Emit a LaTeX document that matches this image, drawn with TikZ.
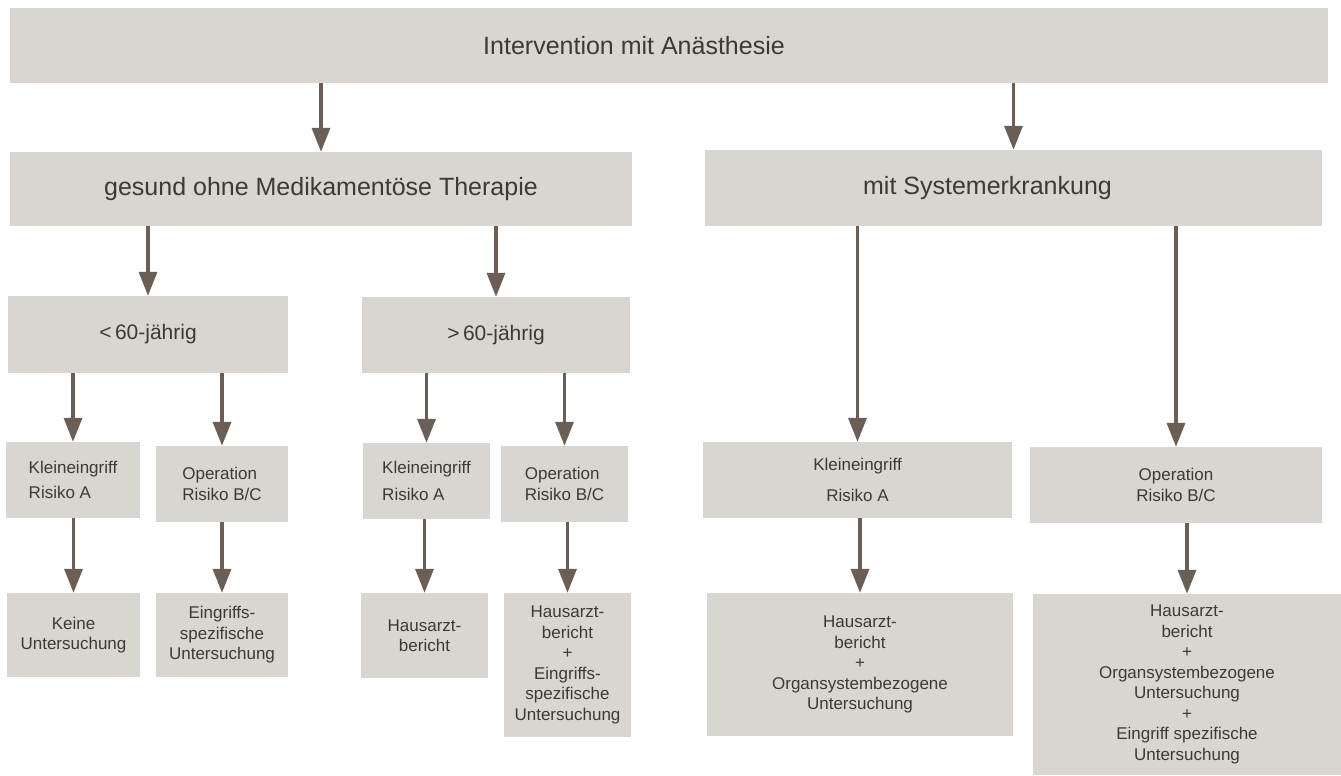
\documentclass[tikz,border=0pt]{standalone}
\usepackage{fontspec}
\setmainfont{Liberation Sans}
\usetikzlibrary{arrows.meta}
\definecolor{kastengrau}{HTML}{D9D6D1}
\definecolor{pfeilbraun}{HTML}{6B5E55}
\definecolor{schrift}{HTML}{3C3A38}

\begin{document}
\begin{tikzpicture}[x=1pt,y=-1pt]
\tikzstyle{kasten} = [fill=kastengrau, inner sep=0pt, text=schrift, align=center, font=\fontsize{17}{20.5}\selectfont]
\tikzstyle{gross} = [font=\fontsize{25}{30}\selectfont]
\tikzstyle{mittel} = [font=\fontsize{21}{25}\selectfont]
\tikzstyle{pfeil} = [draw=pfeilbraun, line width=3.5pt, -{Triangle[width=18pt,length=24pt]}]
\useasboundingbox (0,0) rectangle (1341,776);

% erste und zweite Ebene
\node[kasten, gross, minimum width=1318pt, minimum height=75pt] (start) at (669,45.5) {\hspace*{-70pt}Intervention mit Anästhesie};
\node[kasten, gross, minimum width=622pt, minimum height=74pt] (gesund) at (321,189) {gesund ohne Medikamentöse Therapie};
\node[kasten, gross, minimum width=617pt, minimum height=76pt] (system) at (1013.5,188) {\hspace*{-52pt}mit Systemerkrankung};

% Alter
\node[kasten, mittel, minimum width=280pt, minimum height=77pt] (unter60) at (148,334.5) {<\,60-jährig};
\node[kasten, mittel, minimum width=268pt, minimum height=76pt] (ueber60) at (496,335) {>\,60-jährig};

% Eingriffe
\node[kasten, align=left, minimum width=134pt, minimum height=76pt] (klein1) at (73,480) {Kleineingriff\\[4pt]Risiko A};
\node[kasten, align=left, minimum width=132pt, minimum height=76pt] (op1) at (222,484) {Operation\\Risiko B/C};
\node[kasten, align=left, minimum width=127pt, minimum height=76pt] (klein2) at (426.5,481) {Kleineingriff\\[7pt]Risiko A};
\node[kasten, align=left, minimum width=127pt, minimum height=76pt] (op2) at (564.5,484) {Operation\\Risiko B/C};
\node[kasten, minimum width=309pt, minimum height=76pt] (klein3) at (857.5,480) {Kleineingriff\\[10pt]Risiko A};
\node[kasten, minimum width=292pt, minimum height=76pt] (op3) at (1176,485) {Operation\\Risiko B/C};

% Untersuchungen
\node[kasten, minimum width=133pt, minimum height=84pt] (keine) at (73.5,635) {Keine\\Untersuchung};
\node[kasten, minimum width=132pt, minimum height=84pt] (spez1) at (222,635) {Eingriffs-\\spezifische\\Untersuchung};
\node[kasten, minimum width=127pt, minimum height=85pt] (haus1) at (424.5,635.5) {Hausarzt-\\bericht};
\node[kasten, minimum width=127pt, minimum height=144pt] (haus2) at (567.5,665) {Hausarzt-\\bericht\\+\\Eingriffs-\\spezifische\\Untersuchung};
\node[kasten, minimum width=306pt, minimum height=143pt] (organ1) at (860,664.5) {Hausarzt-\\bericht\\+\\Organsystembezogene\\Untersuchung};
\node[kasten, minimum width=308pt, minimum height=181pt] (organ2) at (1187,684.5) {Hausarzt-\\bericht\\+\\Organsystembezogene\\Untersuchung\\+\\Eingriff spezifische\\Untersuchung};

% Pfeile
\foreach \von/\nach in {start/gesund, start/system, gesund/unter60, gesund/ueber60,
  unter60/klein1, unter60/op1, ueber60/klein2, ueber60/op2,
  klein1/keine, op1/spez1, klein2/haus1, op2/haus2,
  system/klein3, system/op3, klein3/organ1, op3/organ2}
  \draw[pfeil] (\von.south -| \nach.north) -- (\nach.north);
\end{tikzpicture}
\end{document}
